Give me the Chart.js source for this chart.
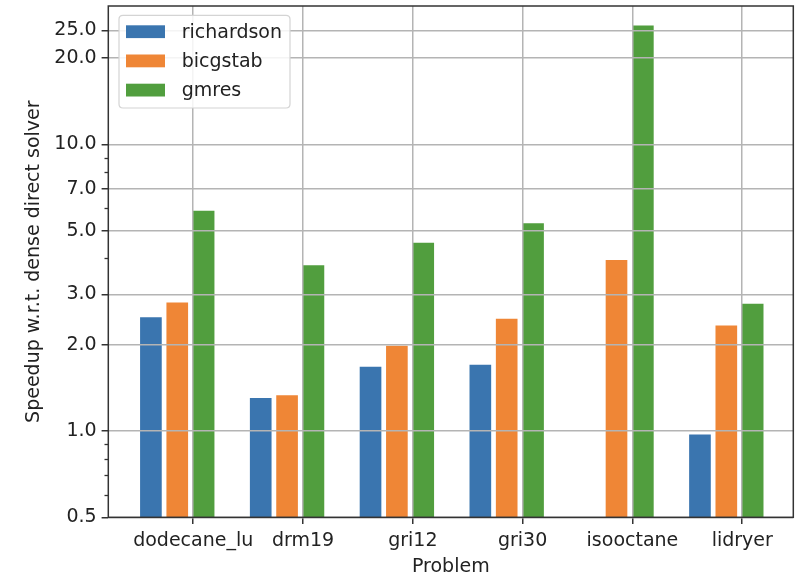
<!DOCTYPE html>
<html>
<head>
<meta charset="utf-8">
<script src="https://cdn.jsdelivr.net/npm/chart.js@4.4.1/dist/chart.umd.min.js"></script>
<style>
  html, body { margin: 0; padding: 0; background: #ffffff; }
  #wrap { width: 798px; height: 576px; }
</style>
</head>
<body>
<div id="wrap"><canvas id="c" width="798" height="576"></canvas></div>
<script>
// ---- data ----
const categories = ['dodecane_lu', 'drm19', 'gri12', 'gri30', 'isooctane', 'lidryer'];
const seriesNames = ['richardson', 'bicgstab', 'gmres'];
const richardson = [2.49, 1.30, 1.67, 1.70, null, 0.97];
const bicgstab   = [2.80, 1.33, 1.98, 2.46, 3.94, 2.33];
const gmres      = [5.85, 3.78, 4.53, 5.29, 25.9, 2.77];
const yMajorTicks = [0.5, 1.0, 2.0, 3.0, 5.0, 7.0, 10.0, 20.0, 25.0];
const yMinorTicks = [0.6, 0.7, 0.8, 0.9, 4.0, 6.0, 8.0, 9.0];

// ---- style / layout ----
const FONT = 'DejaVu Sans';
const FS = 19;
const TEXT = '#222222';
const colors = ['#3a75af', '#ef8636', '#519e3e'];
const offsets = [-0.385, -0.145, 0.095];
const GRID = '#b4b4b4';
const SPINE = '#333333';

const seriesValues = [richardson, bicgstab, gmres];
const datasets = seriesNames.map((name, s) => ({
  label: name,
  data: seriesValues[s].map((v, i) => ({ x: i + offsets[s], y: v })),
  backgroundColor: colors[s],
  borderWidth: 0,
  grouped: false,
  barThickness: 21
}));

const framePlugin = {
  id: 'frame',
  afterDraw(chart) {
    const { ctx, chartArea: a } = chart;
    const y = chart.scales.y;
    ctx.save();
    // minor ticks
    ctx.strokeStyle = SPINE;
    ctx.lineWidth = 1.3;
    yMinorTicks.forEach(v => {
      const py = Math.round(y.getPixelForValue(v)) + 0.5;
      ctx.beginPath();
      ctx.moveTo(a.left, py);
      ctx.lineTo(a.left - 3.8, py);
      ctx.stroke();
    });
    // frame
    ctx.lineWidth = 1.5;
    ctx.strokeRect(a.left, a.top, a.right - a.left, a.bottom - a.top);
    // legend
    const bx = a.left + 10.7, by = a.top + 9.3, bw = 171, bh = 92.7, r = 4;
    ctx.beginPath();
    ctx.moveTo(bx + r, by);
    ctx.lineTo(bx + bw - r, by);
    ctx.quadraticCurveTo(bx + bw, by, bx + bw, by + r);
    ctx.lineTo(bx + bw, by + bh - r);
    ctx.quadraticCurveTo(bx + bw, by + bh, bx + bw - r, by + bh);
    ctx.lineTo(bx + r, by + bh);
    ctx.quadraticCurveTo(bx, by + bh, bx, by + bh - r);
    ctx.lineTo(bx, by + r);
    ctx.quadraticCurveTo(bx, by, bx + r, by);
    ctx.closePath();
    ctx.fillStyle = 'rgba(255,255,255,0.85)';
    ctx.fill();
    ctx.strokeStyle = '#d4d4d4';
    ctx.lineWidth = 1.2;
    ctx.stroke();
    ctx.font = FS + 'px "' + FONT + '"';
    ctx.textBaseline = 'middle';
    ctx.textAlign = 'left';
    chart.data.datasets.forEach((ds, i) => {
      const cy = by + 16.4 + i * 29.2;
      ctx.fillStyle = ds.backgroundColor;
      ctx.fillRect(bx + 7, cy - 6.4, 39, 12.8);
      ctx.fillStyle = TEXT;
      ctx.fillText(ds.label, bx + 62.7, cy + 1);
    });
    ctx.restore();
  }
};

new Chart(document.getElementById('c'), {
  type: 'bar',
  data: { datasets },
  options: {
    responsive: false,
    animation: false,
    layout: { padding: { top: 6, right: 4.7, left: 0, bottom: 0 } },
    plugins: { legend: { display: false }, tooltip: { enabled: false } },
    scales: {
      x: {
        type: 'linear',
        offset: false,
        min: -0.773,
        max: 5.465,
        afterBuildTicks(scale) { scale.ticks = categories.map((_, i) => ({ value: i })); },
        afterFit(scale) { scale.height = 58.7; scale.paddingLeft = 0; scale.paddingRight = 0; },
        ticks: {
          autoSkip: false,
          maxRotation: 0,
          padding: 6,
          color: TEXT,
          font: { family: FONT, size: FS },
          callback: (v) => categories[Math.round(v)] ?? ''
        },
        grid: { offset: false, z: 1, color: GRID, lineWidth: 1.5, tickColor: SPINE, tickWidth: 1.5, tickLength: 6.7 },
        border: { display: false },
        title: { display: true, text: 'Problem', color: TEXT, font: { family: FONT, size: FS }, padding: { top: 0, bottom: -2.5 } }
      },
      y: {
        type: 'logarithmic',
        min: 0.5,
        max: 30.4,
        afterBuildTicks(scale) { scale.ticks = yMajorTicks.map(v => ({ value: v })); },
        afterFit(scale) { scale.width = 108.3; scale.paddingTop = 0; scale.paddingBottom = 0; },
        ticks: {
          autoSkip: false,
          padding: 5,
          color: TEXT,
          font: { family: FONT, size: FS },
          callback: (v) => Number(v).toFixed(1)
        },
        grid: { z: 1, color: GRID, lineWidth: 1.5, tickColor: SPINE, tickWidth: 1.5, tickLength: 6.7 },
        border: { display: false },
        title: { display: true, text: 'Speedup w.r.t. dense direct solver', color: TEXT, font: { family: FONT, size: FS }, padding: { top: 23, bottom: 0 } }
      }
    }
  },
  plugins: [framePlugin]
});
</script>
</body>
</html>
